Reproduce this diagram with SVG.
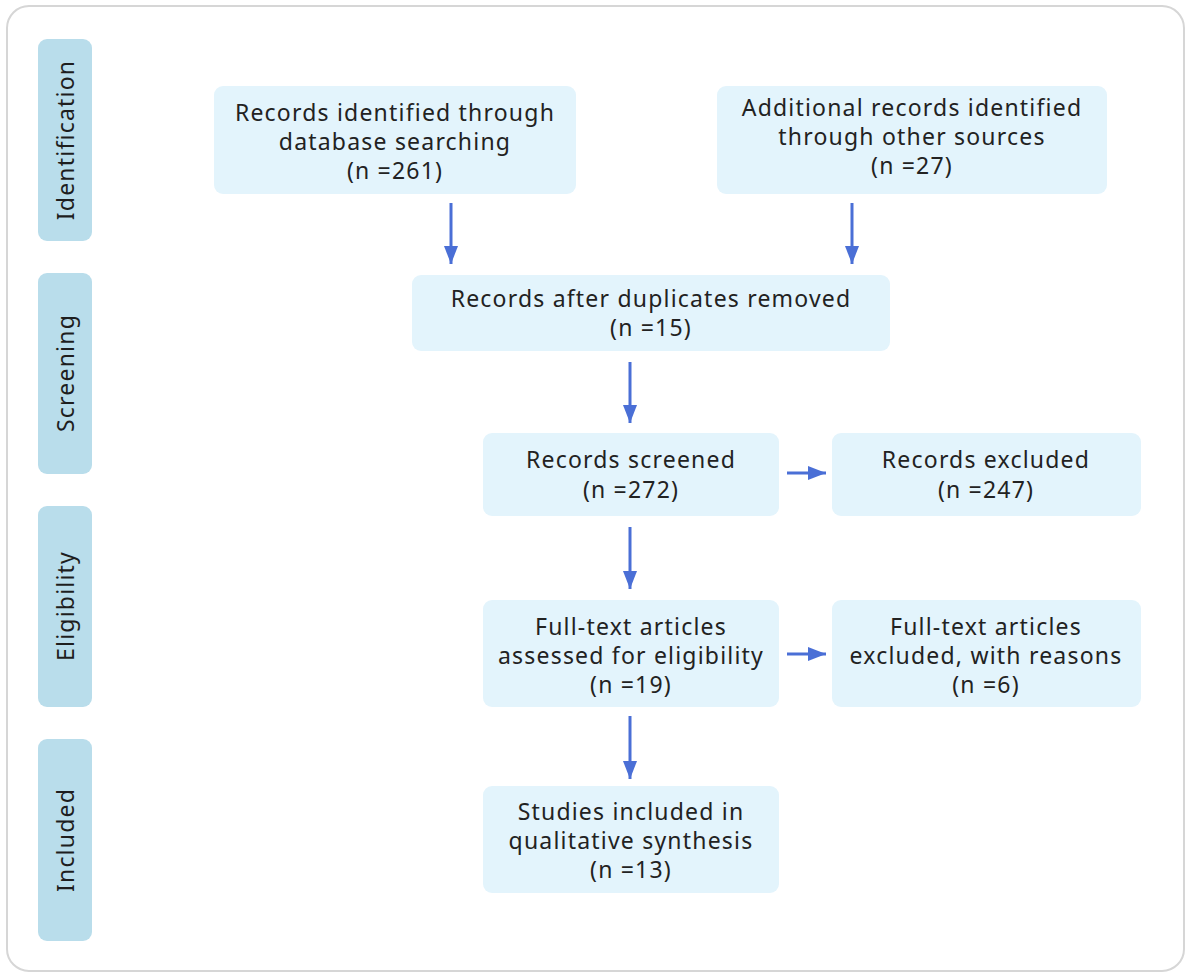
<svg xmlns="http://www.w3.org/2000/svg" width="1186" height="974" viewBox="0 0 1186 974">
  <style>
    .frame { fill: #ffffff; stroke: #d6d6d6; stroke-width: 2; }
    .phase rect { fill: #b9ddeb; }
    .phase text { fill: #1e1e1e; font-family: "Noto Sans", "DejaVu Sans", sans-serif; font-size: 23px; letter-spacing: 1.2px; text-anchor: middle; dominant-baseline: central; }
    .node rect { fill: #e3f4fc; }
    .node text { fill: #222222; font-family: "Noto Sans", "DejaVu Sans", sans-serif; font-size: 23px; letter-spacing: 1.2px; text-anchor: middle; dominant-baseline: central; }
    .conn line { stroke: #4a6fd6; stroke-width: 3; }
  </style>
  <defs>
    <marker id="arrow" viewBox="0 0 18 14" refX="18" refY="7" markerWidth="18" markerHeight="14" orient="auto" markerUnits="userSpaceOnUse">
      <path d="M0,0 L18,7 L0,14 z" fill="#4a6fd6"/>
    </marker>
  </defs>

  <!-- outer frame -->
  <rect class="frame" x="7" y="6" width="1177" height="965" rx="22" ry="22"/>

  <!-- phase labels -->
  <g id="phase-identification" class="phase">
    <rect x="38" y="39" width="54" height="202" rx="9"/>
    <text transform="translate(65 140) rotate(-90)">Identification</text>
  </g>
  <g id="phase-screening" class="phase">
    <rect x="38" y="273" width="54" height="201" rx="9"/>
    <text transform="translate(65 373) rotate(-90)">Screening</text>
  </g>
  <g id="phase-eligibility" class="phase">
    <rect x="38" y="506" width="54" height="201" rx="9"/>
    <text transform="translate(65 606) rotate(-90)">Eligibility</text>
  </g>
  <g id="phase-included" class="phase">
    <rect x="38" y="739" width="54" height="202" rx="9"/>
    <text transform="translate(65 840) rotate(-90)">Included</text>
  </g>

  <!-- boxes -->
  <g id="db-search" class="node">
    <rect x="214" y="86" width="362" height="108" rx="9"/>
    <text x="395" y="112">Records identified through</text>
    <text x="395" y="141">database searching</text>
    <text x="395" y="170">(n =261)</text>
  </g>
  <g id="other-sources" class="node">
    <rect x="717" y="86" width="390" height="108" rx="9"/>
    <text x="912" y="107">Additional records identified</text>
    <text x="912" y="136">through other sources</text>
    <text x="912" y="165">(n =27)</text>
  </g>
  <g id="dedup" class="node">
    <rect x="412" y="275" width="478" height="76" rx="9"/>
    <text x="651" y="298">Records after duplicates removed</text>
    <text x="651" y="327">(n =15)</text>
  </g>
  <g id="screened" class="node">
    <rect x="483" y="433" width="296" height="83" rx="9"/>
    <text x="631" y="459">Records screened</text>
    <text x="631" y="489">(n =272)</text>
  </g>
  <g id="excluded" class="node">
    <rect x="832" y="433" width="309" height="83" rx="9"/>
    <text x="986" y="459">Records excluded</text>
    <text x="986" y="489">(n =247)</text>
  </g>
  <g id="fulltext" class="node">
    <rect x="483" y="600" width="296" height="107" rx="9"/>
    <text x="631" y="626">Full-text articles</text>
    <text x="631" y="655">assessed for eligibility</text>
    <text x="631" y="684">(n =19)</text>
  </g>
  <g id="fulltext-excluded" class="node">
    <rect x="832" y="600" width="309" height="107" rx="9"/>
    <text x="986" y="626">Full-text articles</text>
    <text x="986" y="655">excluded, with reasons</text>
    <text x="986" y="684">(n =6)</text>
  </g>
  <g id="included" class="node">
    <rect x="483" y="786" width="296" height="107" rx="9"/>
    <text x="631" y="811">Studies included in</text>
    <text x="631" y="840">qualitative synthesis</text>
    <text x="631" y="869">(n =13)</text>
  </g>

  <!-- connectors -->
  <g id="connectors" class="conn">
    <line x1="451" y1="203" x2="451" y2="264" marker-end="url(#arrow)"/>
    <line x1="852" y1="203" x2="852" y2="264" marker-end="url(#arrow)"/>
    <line x1="630" y1="362" x2="630" y2="423" marker-end="url(#arrow)"/>
    <line x1="630" y1="527" x2="630" y2="589" marker-end="url(#arrow)"/>
    <line x1="630" y1="716" x2="630" y2="779" marker-end="url(#arrow)"/>
    <line x1="787" y1="473" x2="826" y2="473" marker-end="url(#arrow)"/>
    <line x1="787" y1="654" x2="826" y2="654" marker-end="url(#arrow)"/>
  </g>
</svg>
